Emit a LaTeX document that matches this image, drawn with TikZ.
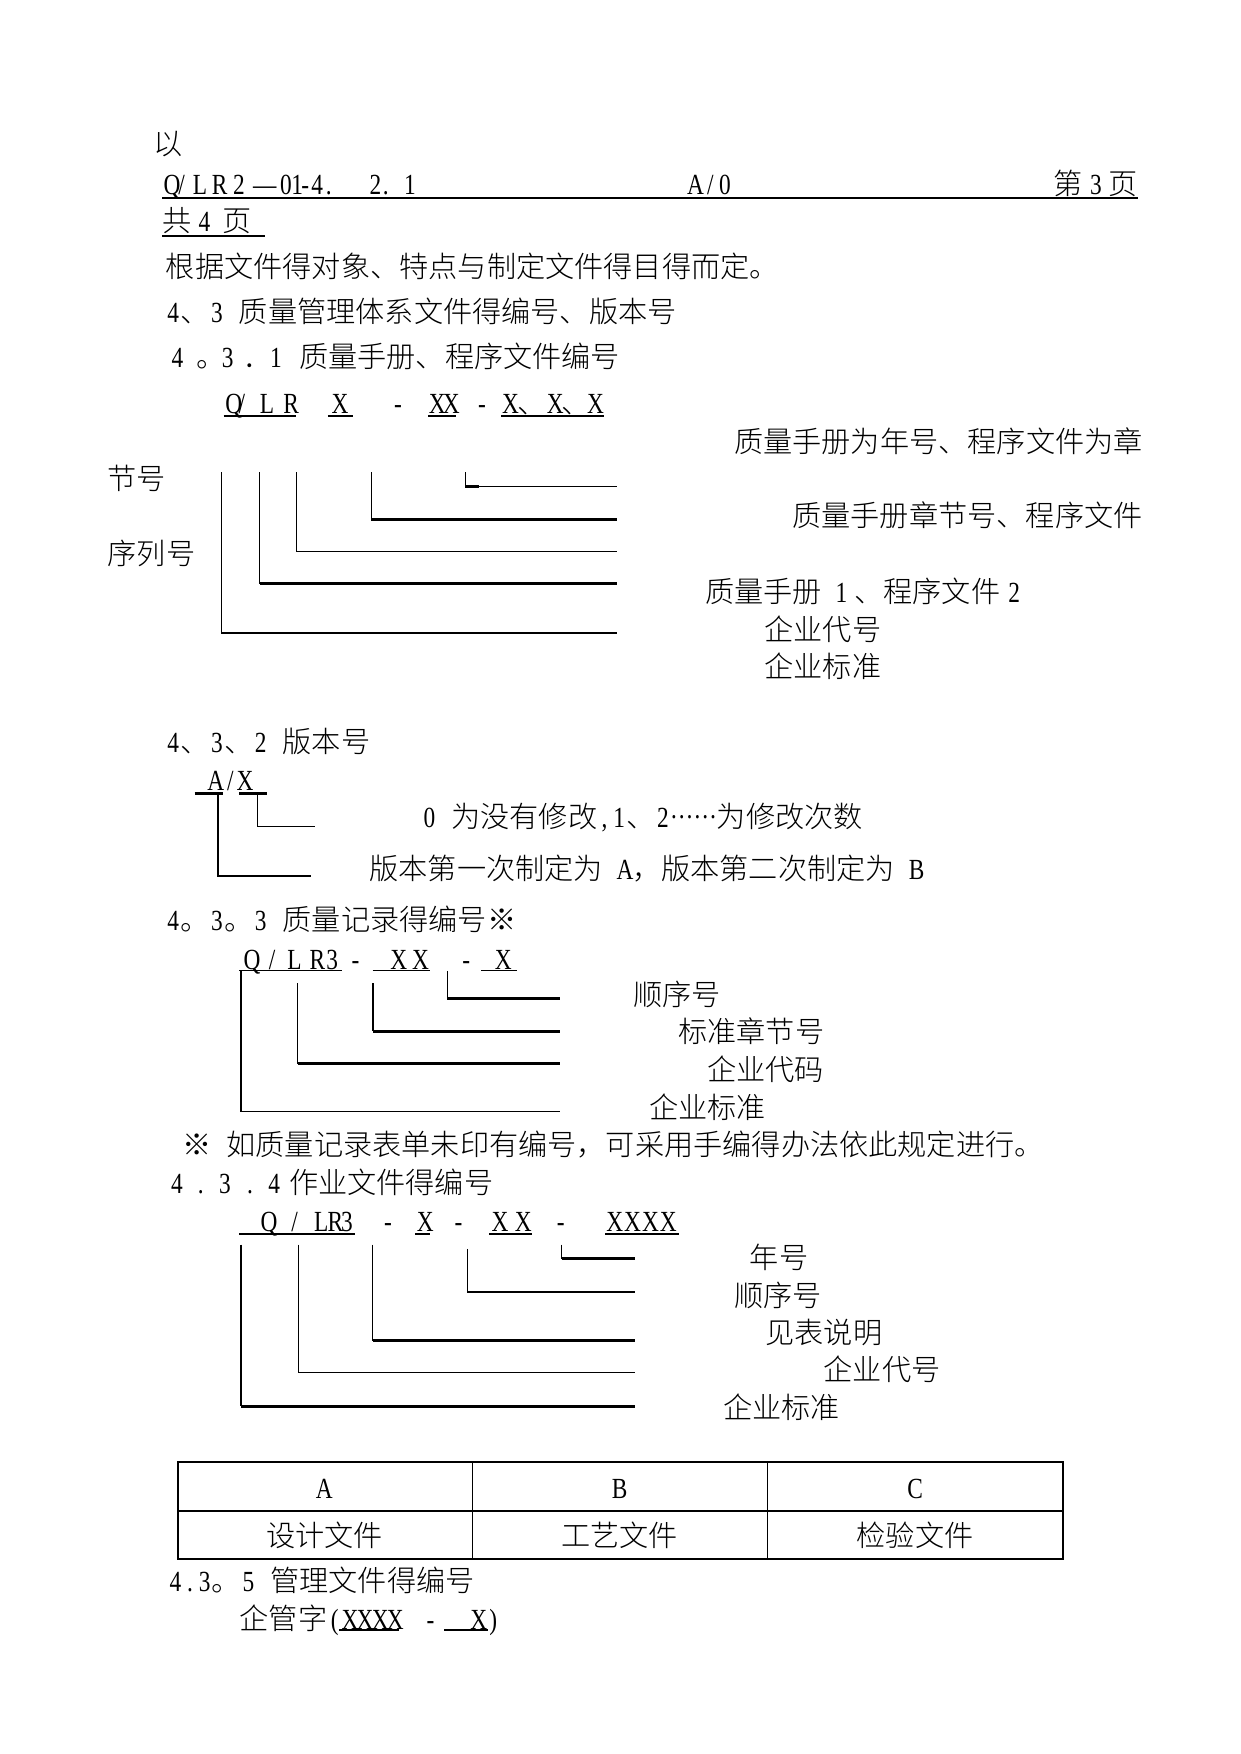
\documentclass[tikz,border=0pt]{standalone}
\usepackage{fontspec}
\setmainfont{Noto Sans CJK SC}[UprightFont=* Light]
\newfontfamily\lat{Liberation Serif}[FakeStretch=0.8]
\newlength\ulen \setlength\ulen{0.5366pt}
\newcommand\cell[2]{\makebox[#1\ulen][l]{#2}}
\newcommand\hw[1]{\hwi#1\relax}
\def\hwi#1{\ifx\relax#1\else\makebox[7pt]{\lat #1}\expandafter\hwi\fi}
\tikzset{
  txt/.style={anchor=west, inner sep=0pt, text height=12.3pt, text depth=1.7pt, font=\fontsize{14pt}{16pt}\selectfont},
  ctr/.style={txt, anchor=center},
  ln/.style={line width=0.7pt},
  lnk/.style={line width=1.4pt},
  ul/.style={line width=1.1pt},
  tb/.style={line width=0.8pt}
}
\begin{document}
\begin{tikzpicture}[x={(0.5366pt,0pt)}, y={(0pt,-0.5366pt)}]
\useasboundingbox (0,0) rectangle (1109,1568);
% header
\node[txt] (yi) at (137,128) {以};
\node[txt] (hd1) at (146,164) {\lat\cell{13}{Q}\cell{13}{/}\cell{17}{L}\cell{19}{R}\cell{18}{2}\cell{24}{—}\cell{10}{0}\cell{9}{1}\cell{9}{-}\cell{13}{4}\cell{39}{.}\cell{12}{2}\cell{19}{.}1};
\node[txt] (hd2) at (615,164) {\hw{A/0}};
\node[txt, anchor=east] (hd3) at (1017,164) {第\cell{23}{\hspace{7\ulen}\lat 3}页};
\node[txt] (hd4) at (145,197) {共\cell{27}{\hspace{6\ulen}\lat 4}页};
\draw[lnk] (145,177) -- (1017,177);
\draw[ln] (145,211) -- (237,211);
% paragraphs
\node[txt] (p1) at (148,238) {根据文件得对象、特点与制定文件得目得而定。};
\node[txt] (s43) at (148,278) {\hw{4}、\hw{3~}质量管理体系文件得编号、版本号};
\node[txt] (s431) at (153,319) {\cell{22}{\lat 4}\cell{23}{。}\cell{19}{\lat 3}\cell{24}{．}\cell{26}{\lat 1}质量手册、程序文件编号};
% formula 1
\node[txt] (f1a) at (201,360) {\lat\cell{12}{Q}\cell{19}{/}\cell{21}{L}R};
\node[txt] (f1b) at (296,360) {\lat X};
\node[txt] (f1c) at (352,360) {\lat -};
\node[txt] (f1d) at (383,360) {\lat\cell{12.5}{X}X};
\node[txt] (f1e) at (427,360) {\lat -};
\node[txt] (f1f) at (448.5,360) {\cell{13.5}{\lat X}\cell{26.5}{、}\cell{13}{\lat X}\cell{23}{、}\lat X};
\draw[ul] (200,372) -- (265,372);
\draw[ul] (293,372) -- (316,372);
\draw[ul] (383,372) -- (408,372);
\draw[ul] (448,372) -- (540,372);
% diagram 1 lines
\draw[ln] (198,422) -- (198,566);
\draw[ln] (198,566) -- (552,566);
\draw[ln] (232,422) -- (232,522);
\draw[lnk] (232,522) -- (552,522);
\draw[ln] (265,422) -- (265,493);
\draw[ln] (265,493) -- (552,493);
\draw[ln] (332,422) -- (332,464);
\draw[lnk] (332,464) -- (552,464);
\draw[ln] (416,422) -- (416,435);
\draw[ln] (416,435) -- (552,435);
\draw[lnk] (416,435) -- (428,435);
% diagram 1 labels
\node[txt] (d1a) at (656,395) {质量手册为年号、程序文件为章};
\node[txt] (d1b) at (96,428) {节号};
\node[txt] (d1c) at (708,461) {质量手册章节号、程序文件};
\node[txt] (d1d) at (96,495) {序列号};
\node[txt] (d1e) at (630,529) {质量手册\hspace{11\ulen}\hw{1}\hspace{5\ulen}、程序文件\hspace{6\ulen}\hw{2}};
\node[txt] (d1f) at (683,563) {企业代号};
\node[txt] (d1g) at (683,596) {企业标准};
% 4.3.2
\node[txt] (s432) at (148,663) {\hw{4}、\hw{3}、\hw{2~}版本号};
\node[txt] (ax) at (186,697) {\hw{A/X}};
\draw[lnk] (174,709) -- (199,709);
\draw[lnk] (214,709) -- (239,709);
\draw[ln] (230,711) -- (230,739) -- (282,739);
\draw[ln] (195,711) -- (195,783) -- (278,783);
\node[txt] (v1) at (377,730) {\hw{0~}为没有修改\hw{,1}、\hw{2}\raisebox{0.3em}{\lat ……}为修改次数};
\node[txt] (v2) at (330,776) {版本第一次制定为\hw{~A}，版本第二次制定为\hw{~B}};
% 4.3.3
\node[txt] (s433) at (148,822) {\hw{4}。\hw{3}。\hw{3~}质量记录得编号※};
\node[txt] (f3a) at (217.5,857) {\lat\cell{22.5}{Q}\cell{16.5}{/}\cell{20}{L}\cell{15}{R}3};
\node[txt] (f3b) at (314,857) {\lat -};
\node[txt] (f3c) at (348.5,857) {\lat\cell{19.5}{X}X};
\node[txt] (f3d) at (413,857) {\lat -};
\node[txt] (f3e) at (442,857) {\lat X};
\draw[ln] (214,867.5) -- (306,867.5);
\draw[ln] (333,867.5) -- (384,867.5);
\draw[ln] (430,867.5) -- (462,867.5);
\draw[ln] (215.5,867.5) -- (215.5,993.5) -- (501,993.5);
\draw[ln] (266,879) -- (266,951);
\draw[lnk] (266,951) -- (501,951);
\draw[ln] (333.5,879) -- (333.5,922);
\draw[lnk] (333.5,922) -- (501,922);
\draw[ln] (400,868) -- (400,893);
\draw[lnk] (400,893) -- (501,893);
\node[txt] (r1) at (566,889) {顺序号};
\node[txt] (r2) at (606,922) {标准章节号};
\node[txt] (r3) at (632,956) {企业代码};
\node[txt] (r4) at (580,990) {企业标准};
\node[txt] (note) at (163,1023) {※\hw{~}如质量记录表单未印有编号，可采用手编得办法依此规定进行。};
% 4.3.4
\node[txt] (s434) at (152.5,1057) {{\lat\cell{24}{4}\cell{19}{.}\cell{25}{3}\cell{19}{.}\cell{18.5}{4}}作业文件得编号};
\node[txt] (f4a) at (232.5,1091) {\lat Q};
\node[txt] (f4b) at (260,1091) {\lat /};
\node[txt] (f4c) at (280.5,1091) {\lat\cell{12}{L}\cell{12}{R}3};
\node[txt] (f4d) at (343,1091) {\lat -};
\node[txt] (f4e) at (372.4,1091) {\lat X};
\node[txt] (f4f) at (406,1091) {\lat -};
\node[txt] (f4g) at (439,1091) {\lat\cell{21}{X}X};
\node[txt] (f4h) at (497.5,1091) {\lat -};
\node[txt] (f4i) at (541.6,1091) {\lat\cell{16}{X}\cell{16}{X}\cell{16}{X}X};
\draw[ul] (214,1103) -- (317,1103);
\draw[ul] (371,1103) -- (384,1103);
\draw[ul] (437.5,1103) -- (475.5,1103);
\draw[ul] (541,1103) -- (607,1103);
\draw[ln] (215.6,1112.6) -- (215.6,1257);
\draw[lnk] (215.6,1257) -- (568,1257);
\draw[ln] (267,1112.6) -- (267,1227) -- (568,1227);
\draw[ln] (333,1112.6) -- (333,1198.4);
\draw[lnk] (333,1198.4) -- (568,1198.4);
\draw[ln] (418,1116.5) -- (418,1155) -- (568,1155);
\draw[ln] (502,1112.6) -- (502,1125.4);
\draw[lnk] (502,1125.4) -- (568,1125.4);
\node[txt] (w1) at (670,1124) {年号};
\node[txt] (w2) at (656,1158) {顺序号};
\node[txt] (w3) at (684,1191) {见表说明};
\node[txt] (w4) at (736,1224) {企业代号};
\node[txt] (w5) at (646,1258) {企业标准};
% table
\draw[tb] (159,1307) rectangle (950,1393.5);
\draw[tb] (159,1351) -- (950,1351);
\draw[ln] (422.5,1307) -- (422.5,1393.5);
\draw[ln] (686,1307) -- (686,1393.5);
\node[ctr] (ta) at (290,1330) {\lat A};
\node[ctr] (tbb) at (554,1330) {\lat B};
\node[ctr] (tc) at (818,1330) {\lat C};
\node[ctr] (td) at (290,1373) {设计文件};
\node[ctr] (te) at (554,1373) {工艺文件};
\node[ctr] (tf) at (818,1373) {检验文件};
% 4.3.5
\node[txt] (s435) at (150,1413) {\hw{4.3}。\hw{5~}管理文件得编号};
\node[txt] (g1) at (214,1447) {企管字\hw{(}};
\node[txt] (g2) at (305,1447) {\lat\cell{13.5}{X}\cell{13.5}{X}\cell{13.5}{X}X};
\node[txt] (g3) at (381,1447) {\lat -};
\node[txt, anchor=east] (g4) at (436,1447) {\lat X};
\node[txt] (g5) at (437,1447) {\lat )};
\draw[ln] (303,1457) -- (357,1457);
\draw[ln] (397,1457) -- (436,1457);
\end{tikzpicture}
\end{document}
